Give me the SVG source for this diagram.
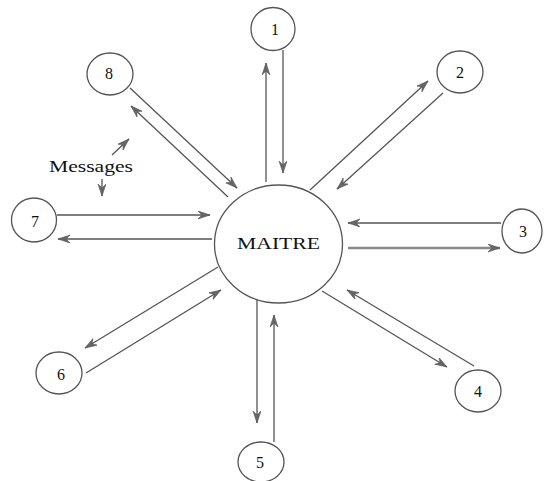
<svg xmlns="http://www.w3.org/2000/svg" width="545" height="481" viewBox="0 0 545 481">
<style>
.n{fill:#fff;stroke:#555;stroke-width:1.3}
.t{font-family:"Liberation Serif",serif;font-size:16px;fill:#111;text-anchor:middle}
.c line{stroke:#555;stroke-width:1.3;marker-end:url(#ah)}
</style>
<defs>
<marker id="ah" markerUnits="userSpaceOnUse" markerWidth="14" markerHeight="10" refX="12" refY="4" orient="auto">
<path d="M0,0 L12,4 L0,8 L4,4 z" fill="#666" stroke="#555" stroke-width="0.6"/>
</marker>
</defs>
<rect width="545" height="481" fill="#fff"/>
<g class="c" id="connectors">
<line x1="266" y1="182" x2="266" y2="63"/>
<line x1="283" y1="50" x2="283" y2="173"/>
<line x1="310" y1="190" x2="428" y2="81"/>
<line x1="443" y1="93" x2="337" y2="189"/>
<line x1="501" y1="223" x2="348" y2="223"/>
<line x1="348" y1="248" x2="500" y2="248" style="stroke:#888;stroke-width:2.4"/>
<line x1="322" y1="291" x2="447" y2="367"/>
<line x1="474" y1="366" x2="347" y2="290"/>
<line x1="257" y1="299" x2="257" y2="423"/>
<line x1="274" y1="442" x2="274" y2="315"/>
<line x1="218" y1="267" x2="85" y2="348"/>
<line x1="86" y1="373" x2="221" y2="290"/>
<line x1="57" y1="215" x2="210" y2="215"/>
<line x1="212" y1="239" x2="58" y2="239"/>
<line x1="130" y1="88" x2="237" y2="188"/>
<line x1="228" y1="197" x2="131" y2="106"/>
<line x1="112" y1="155" x2="129" y2="139"/>
<line x1="102" y1="179" x2="102" y2="196"/>
</g>
<g id="maitre"><ellipse class="n" cx="278.5" cy="244" rx="64" ry="59"/><text class="t" x="278.5" y="249" font-size="19" textLength="83" lengthAdjust="spacingAndGlyphs">MAITRE</text></g>
<g id="n1"><ellipse class="n" cx="273" cy="29" rx="22" ry="21.5"/><text class="t" x="275" y="35">1</text></g>
<g id="n2"><ellipse class="n" cx="460" cy="72" rx="23" ry="21"/><text class="t" x="460" y="78">2</text></g>
<g id="n3"><ellipse class="n" cx="522" cy="231" rx="20" ry="22"/><text class="t" x="523" y="237">3</text></g>
<g id="n4"><ellipse class="n" cx="478" cy="391" rx="23" ry="21"/><text class="t" x="478" y="397">4</text></g>
<g id="n5"><ellipse class="n" cx="261" cy="462" rx="23" ry="20"/><text class="t" x="260" y="468">5</text></g>
<g id="n6"><ellipse class="n" cx="59" cy="373" rx="23" ry="21"/><text class="t" x="61" y="380">6</text></g>
<g id="n7"><ellipse class="n" cx="34" cy="220" rx="22.5" ry="22"/><text class="t" x="35" y="227">7</text></g>
<g id="n8"><ellipse class="n" cx="110" cy="74" rx="23" ry="21"/><text class="t" x="109" y="79">8</text></g>
<g id="messages"><text class="t" x="91" y="172" font-size="18" textLength="84" lengthAdjust="spacingAndGlyphs">Messages</text></g>
</svg>
